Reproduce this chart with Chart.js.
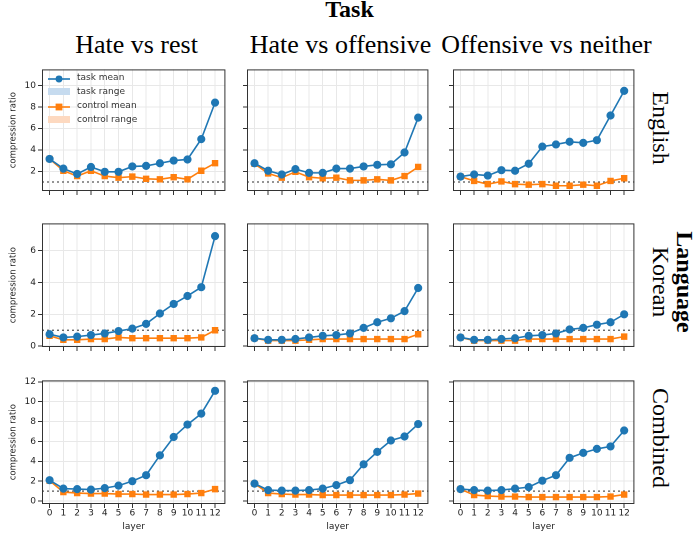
<!DOCTYPE html><html><head><meta charset="utf-8">
<script src="https://cdn.jsdelivr.net/npm/chart.js@4"></script>
<style>
body{margin:0;width:699px;height:533px;background:#fff;position:relative;overflow:hidden;font-family:"Liberation Serif",serif}
canvas{position:absolute}
.t{position:absolute;white-space:nowrap}
.rot{position:absolute;transform:translate(-50%,-50%) rotate(90deg);white-space:nowrap}
.leg{position:absolute;left:48px;top:70px;font:9px "DejaVu Sans",sans-serif;color:#333;line-height:14px}
.leg div{display:flex;align-items:center}
.leg span.k{display:inline-block;width:22px;height:8px;margin-right:7px;position:relative}
</style></head><body>
<div class="t" style="left:0;width:699px;text-align:center;top:-4px;font-size:24px;font-weight:bold">Task</div>
<div class="t" style="left:42px;width:189px;text-align:center;top:30px;font-size:26px">Hate vs rest</div>
<div class="t" style="left:247px;width:187px;text-align:center;top:30px;font-size:26px">Hate vs offensive</div>
<div class="t" style="left:438px;width:217px;text-align:center;top:30px;font-size:26px">Offensive vs neither</div>
<div class="rot" style="left:660px;top:128px;font-size:24px">English</div>
<div class="rot" style="left:660px;top:282px;font-size:24px">Korean</div>
<div class="rot" style="left:660px;top:438px;font-size:24px">Combined</div>
<div class="rot" style="left:684px;top:282px;font-size:24px;font-weight:bold">Language</div>
<script>
const layers=[0,1,2,3,4,5,6,7,8,9,10,11,12];
const rowNames=["English","Korean","Combined"];
const colNames=["Hate vs rest","Hate vs offensive","Offensive vs neither"];
const taskEnglish=[[3.15,2.25,1.75,2.4,1.95,1.95,2.45,2.5,2.75,3.0,3.1,5.0,8.4],[2.75,2.05,1.7,2.2,1.85,1.85,2.25,2.25,2.45,2.6,2.65,3.75,7.0],[1.5,1.7,1.6,2.1,2.05,2.7,4.3,4.5,4.75,4.65,4.9,7.2,9.5]];
const controlEnglish=[[3.15,2.05,1.55,2.05,1.55,1.4,1.5,1.3,1.25,1.45,1.25,2.05,2.75],[2.7,1.8,1.4,1.95,1.45,1.35,1.4,1.15,1.15,1.25,1.15,1.55,2.4],[1.5,1.1,0.8,1.05,0.8,0.75,0.8,0.65,0.65,0.75,0.65,1.1,1.35]];
const taskKorean=[[0.75,0.55,0.6,0.7,0.8,0.95,1.1,1.4,2.05,2.65,3.15,3.7,6.9],[0.5,0.4,0.4,0.45,0.55,0.65,0.7,0.8,1.15,1.5,1.75,2.2,3.65],[0.55,0.4,0.4,0.45,0.5,0.65,0.7,0.8,1.05,1.15,1.35,1.5,2.0]];
const controlKorean=[[0.65,0.4,0.4,0.45,0.45,0.55,0.5,0.5,0.5,0.5,0.5,0.55,1.0],[0.5,0.35,0.35,0.35,0.4,0.45,0.45,0.45,0.45,0.45,0.45,0.45,0.75],[0.55,0.35,0.35,0.35,0.35,0.45,0.45,0.45,0.45,0.45,0.45,0.45,0.6]];
const taskCombined=[[2.1,1.25,1.2,1.15,1.3,1.55,2.0,2.6,4.6,6.45,7.7,8.8,11.1],[1.75,1.1,1.05,1.05,1.1,1.25,1.6,2.1,3.7,4.95,6.1,6.5,7.75],[1.2,1.1,1.05,1.1,1.25,1.4,2.05,2.6,4.35,4.85,5.25,5.5,7.1]];
const controlCombined=[[2.05,0.9,0.8,0.75,0.75,0.7,0.7,0.65,0.65,0.65,0.7,0.8,1.2],[1.75,0.8,0.7,0.65,0.65,0.6,0.6,0.6,0.6,0.6,0.6,0.65,0.75],[1.2,0.6,0.5,0.45,0.45,0.4,0.4,0.4,0.4,0.4,0.4,0.45,0.65]];
const taskData=[taskEnglish,taskKorean,taskCombined];
const controlData=[controlEnglish,controlKorean,controlCombined];
const yTicks=[[2,4,6,8,10],[0,2,4,6],[0,2,4,6,8,10,12]];
const yRange=[[0.16,11.5],[-0.05,7.7],[-0.3,12.15]];
const chance=1;

const colBox=[[42,231],[247,434],[453,640]];
const rowBox=[[62,191],[216,347],[373,504]];
const LW=34;
const frame={id:'frame',beforeDatasetsDraw(c){const a=c.chartArea,x=c.ctx,y=c.scales.y.getPixelForValue(chance);
 x.save();x.strokeStyle='#555';x.setLineDash([2,3]);x.lineWidth=1.3;x.beginPath();x.moveTo(a.left,y);x.lineTo(a.right,y);x.stroke();x.restore();},
 afterDraw(c){const a=c.chartArea,x=c.ctx;x.save();x.strokeStyle='#333';x.lineWidth=1;x.strokeRect(a.left+0.5,a.top+0.5,a.width-1,a.height-1);x.restore();}};
for(let r=0;r<3;r++)for(let col=0;col<3;col++){
 const bh=r==2?28:10;
 const cv=document.createElement('canvas');
 const w=colBox[col][1]-colBox[col][0]+LW, h=rowBox[r][1]-rowBox[r][0]+bh;
 cv.style.left=(colBox[col][0]-LW)+'px';cv.style.top=rowBox[r][0]+'px';cv.style.width=w+'px';cv.style.height=h+'px';
 document.body.appendChild(cv);
 const mk=(arr)=>layers.map((l,i)=>({x:l,y:arr[i]}));
 new Chart(cv,{type:'line',data:{datasets:[
  {data:mk(taskData[r][col]),borderColor:'#1f77b4',backgroundColor:'#1f77b4',pointStyle:'circle',pointRadius:3.3,borderWidth:1.6,order:1},
  {data:mk(controlData[r][col]),borderColor:'#ff7f0e',backgroundColor:'#ff7f0e',pointStyle:'rect',pointRadius:3.4,borderWidth:1.6,order:2}]},
 options:{animation:false,responsive:false,devicePixelRatio:2,layout:{padding:0},
  plugins:{legend:{display:false},tooltip:{enabled:false}},
  scales:{
   x:{type:'linear',min:-0.55,max:12.75,afterFit(s){s.height=bh;},
    afterBuildTicks(s){s.ticks=layers.map(v=>({value:v}));},
    ticks:{display:r==2,autoSkip:false,maxRotation:0,padding:0,color:'#222',font:{size:9,family:'DejaVu Sans'}},
    grid:{color:'#e8e8e8',tickLength:4,tickColor:'#333'},border:{display:false},
    title:{display:r==2,text:'layer',padding:{top:0,bottom:0},color:'#222',font:{size:9,family:'DejaVu Sans'}}},
   y:{min:yRange[r][0],max:yRange[r][1],afterFit(s){s.width=LW;},
    afterBuildTicks(s){s.ticks=yTicks[r].map(v=>({value:v}));},
    ticks:{display:true,color:'#222',padding:2,font:{size:9,family:'DejaVu Sans'},callback:v=>col==0?v:''},
    grid:{color:'#e8e8e8',tickLength:4,tickColor:'#333'},border:{display:false},
    title:{display:col==0,text:'compression ratio',padding:0,color:'#222',font:{size:8.5,family:'DejaVu Sans'}}}}},
 plugins:[frame]});
}
</script>
<div class="leg">
<div><span class="k"><svg width="22" height="8"><line x1="0" y1="4" x2="22" y2="4" stroke="#1f77b4" stroke-width="1.6"/><circle cx="11" cy="4" r="3.4" fill="#1f77b4"/></svg></span>task mean</div>
<div><span class="k" style="background:#c6dbef;height:7px"></span>task range</div>
<div><span class="k"><svg width="22" height="8"><line x1="0" y1="4" x2="22" y2="4" stroke="#ff7f0e" stroke-width="1.6"/><rect x="7.6" y="0.6" width="6.8" height="6.8" fill="#ff7f0e"/></svg></span>control mean</div>
<div><span class="k" style="background:#fdd9c0;height:7px"></span>control range</div>
</div>
</body></html>
